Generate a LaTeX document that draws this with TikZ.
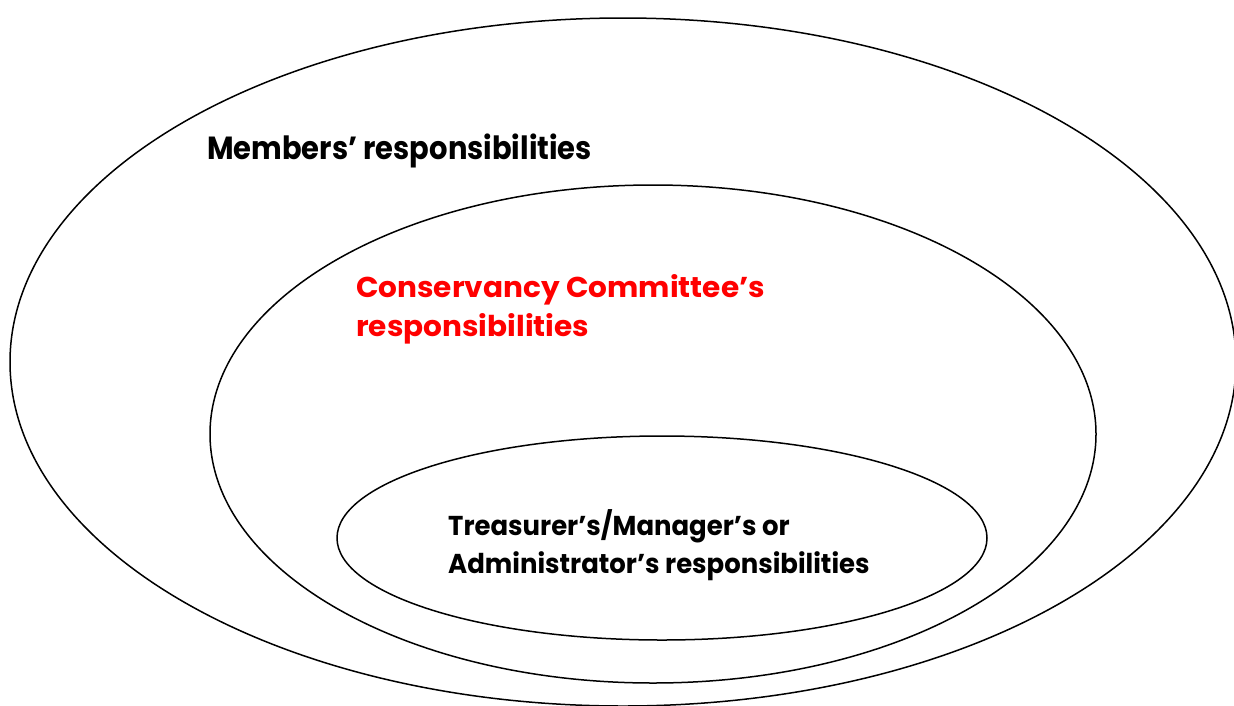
\documentclass[tikz,border=0pt]{standalone}
\usepackage{fontspec}
\setmainfont{Poppins}
\newcommand{\stacktext}[2]{\scalebox{#1}[1]{\begin{tabular}[t]{@{}l@{}}#2\end{tabular}}}
\begin{document}
\begin{tikzpicture}[x=1pt,y=-1pt,
  ring/.style={draw=black,line width=1.5pt},
  lbl/.style={align=left,anchor=base west,inner sep=0pt}]
\useasboundingbox (0,0) rectangle (1234,705);
\clip (0,0) rectangle (1234,705);
\fill[white] (0,0) rectangle (1234,705);
\draw[ring] (623,362) ellipse [x radius=613, y radius=344];
\draw[ring] (653,434) ellipse [x radius=443, y radius=249];
\draw[ring] (662,538) ellipse [x radius=325, y radius=102];
\node[lbl,font=\bfseries\fontsize{32}{40}\selectfont] (members) at (207,159.3) {\stacktext{0.905}{Members’ responsibilities}};
\node[lbl,text=red,font=\bfseries\fontsize{28.7}{39.5}\selectfont] (committee) at (356,297.3) {\stacktext{1.03}{Conservancy Committee’s\\responsibilities}};
\node[lbl,font=\bfseries\fontsize{27.3}{37.3}\selectfont] (treasurer) at (448,535.7) {\stacktext{0.95}{Treasurer’s/Manager’s or\\Administrator’s responsibilities}};
\end{tikzpicture}
\end{document}
